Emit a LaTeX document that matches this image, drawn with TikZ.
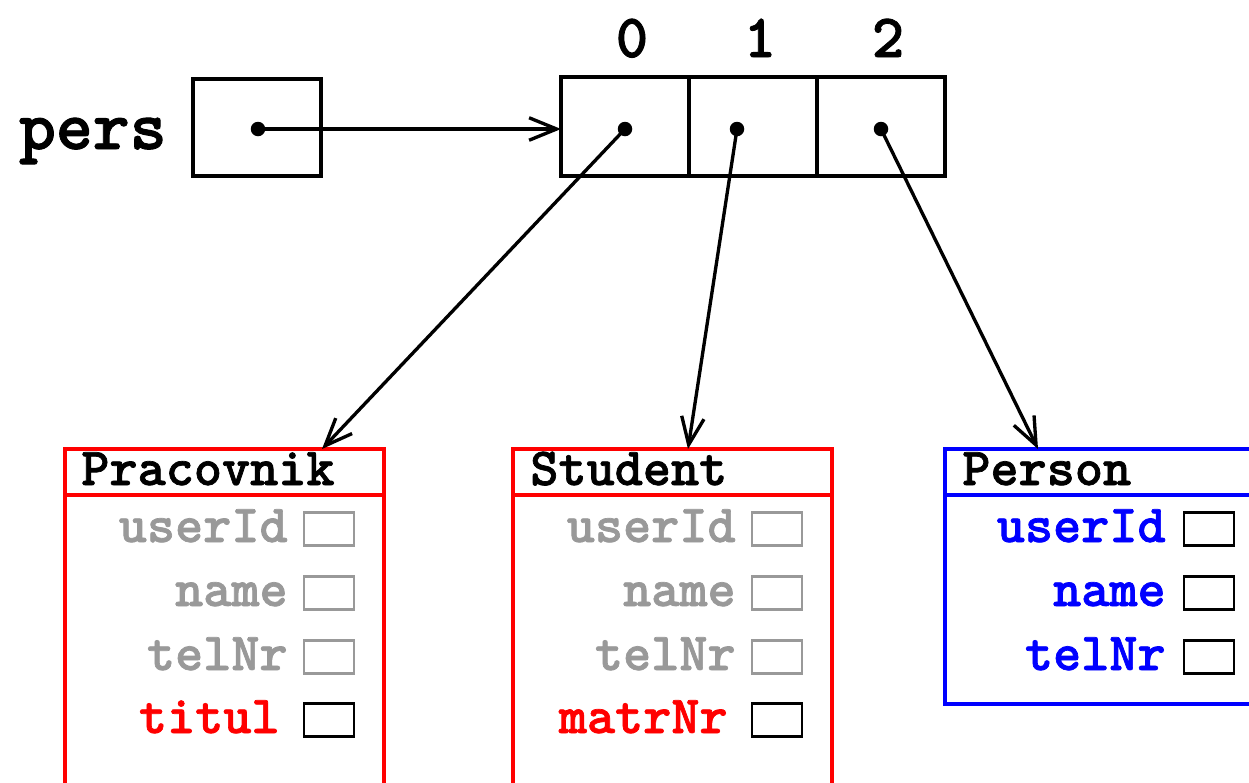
\documentclass[tikz,border=0pt]{standalone}
\usepackage{fontspec}
\newfontfamily\codefont{lmmonolt10-bold.otf}[FakeBold=1.3]
\usetikzlibrary{positioning, arrows.meta}
\definecolor{inherited}{gray}{0.6}
\tikzset{
>={Straight Barb[length=5.5mm, width=4.5mm]}, % open arrow heads
ptr/.style={->, line width=1.9pt}, % pointer arrows
cell/.style={draw, line width=1.9pt, outer sep=0pt, inner sep=0pt, minimum width=2.56cm, minimum height=1.98cm}, % memory cells
dot/.style={circle, fill, inner sep=0pt, minimum size=2.9mm},
big/.style={font=\fontsize{40}{44}\selectfont\codefont, inner sep=0pt},
index/.style={font=\fontsize{35}{40}\selectfont\codefont, inner sep=0pt},
mono/.style={font=\fontsize{30.5}{34}\selectfont\codefont, inner sep=0pt},
classhead/.style={draw, line width=1.9pt, outer sep=0pt, inner sep=0pt, minimum width=6.38cm, minimum height=0.92cm},
classbody/.style={draw, line width=1.9pt, outer sep=0pt, inner sep=0pt, minimum width=6.38cm},
slot/.style={draw, line width=1.6pt, inner sep=0pt, minimum width=1cm, minimum height=0.66cm}, % field boxes
}
\begin{document}
\begin{tikzpicture}[x=0.02cm, y=-0.02cm]
\useasboundingbox (0,0) rectangle (1249,782);
\clip (0,0) rectangle (1249,782);
% variable pers
\node[cell, minimum height=1.94cm] (pers) at (257,127.5) {};
\node[big, anchor=base east] (perslabel) at (167,149) {pers};
% array with three cells
\node[cell] (c0) at (625,126.5) {};
\node[cell, right=0pt of c0] (c1) {};
\node[cell, right=0pt of c1] (c2) {};
\foreach \i in {0,1,2}
  \node[index, anchor=base] (idx\i) at (632+128*\i,57) {\i};
\node[dot] (dp) at (258,129) {};
\node[dot] (d0) at (625,129) {};
\node[dot] (d1) at (737,129) {};
\node[dot] (d2) at (881,129) {};
% objects
\node[classhead, draw=red, anchor=north west] (prac) at (65,449) {};
\node[mono, anchor=base west] (prac-name) at (81,485) {Pracovnik};
\node[classbody, draw=red, below=0pt of prac, minimum height=7cm] (pracbody) {};
\node[classhead, draw=red, anchor=north west] (stud) at (513,449) {};
\node[mono, anchor=base west] (stud-name) at (530,485) {Student};
\node[classbody, draw=red, below=0pt of stud, minimum height=7cm] (studbody) {};
\node[classhead, draw=blue, anchor=north west] (person) at (945,449) {};
\node[mono, anchor=base west] (person-name) at (962,485) {Person};
\node[classbody, draw=blue, below=0pt of person, minimum height=4.18cm] (personbody) {};
% inherited fields
\foreach \x/\cls in {65/prac, 513/stud}
  \foreach \f/\y in {userId/542, name/606, telNr/670}{
    \node[mono, text=inherited, anchor=base east] (\cls-\f) at (\x+223,\y) {\f};
    \node[slot, draw=inherited] (\cls-\f-box) at (\x+264,\y-13) {};
  }
% own fields
\node[mono, text=red, anchor=base east] (prac-titul) at (65+215,733) {titul};
\node[slot] (prac-titul-box) at (65+264,720) {};
\node[mono, text=red, anchor=base east] (stud-matrNr) at (513+215,733) {matrNr};
\node[slot] (stud-matrNr-box) at (513+264,720) {};
\foreach \f/\y in {userId/542, name/606, telNr/670}{
  \node[mono, text=blue, anchor=base east] (person-\f) at (945+221,\y) {\f};
  \node[slot] (person-\f-box) at (945+264,\y-13) {};
}
% pointers
\coordinate (pracin) at (322,449);
\coordinate (studin) at (688,449);
\coordinate (personin) at (1038,449);
\draw[ptr] (dp.center) -- (c0.west |- dp);
\draw[ptr] (d0.center) -- (pracin);
\draw[ptr] (d1.center) -- (studin);
\draw[ptr] (d2.center) -- (personin);
\end{tikzpicture}
\end{document}
